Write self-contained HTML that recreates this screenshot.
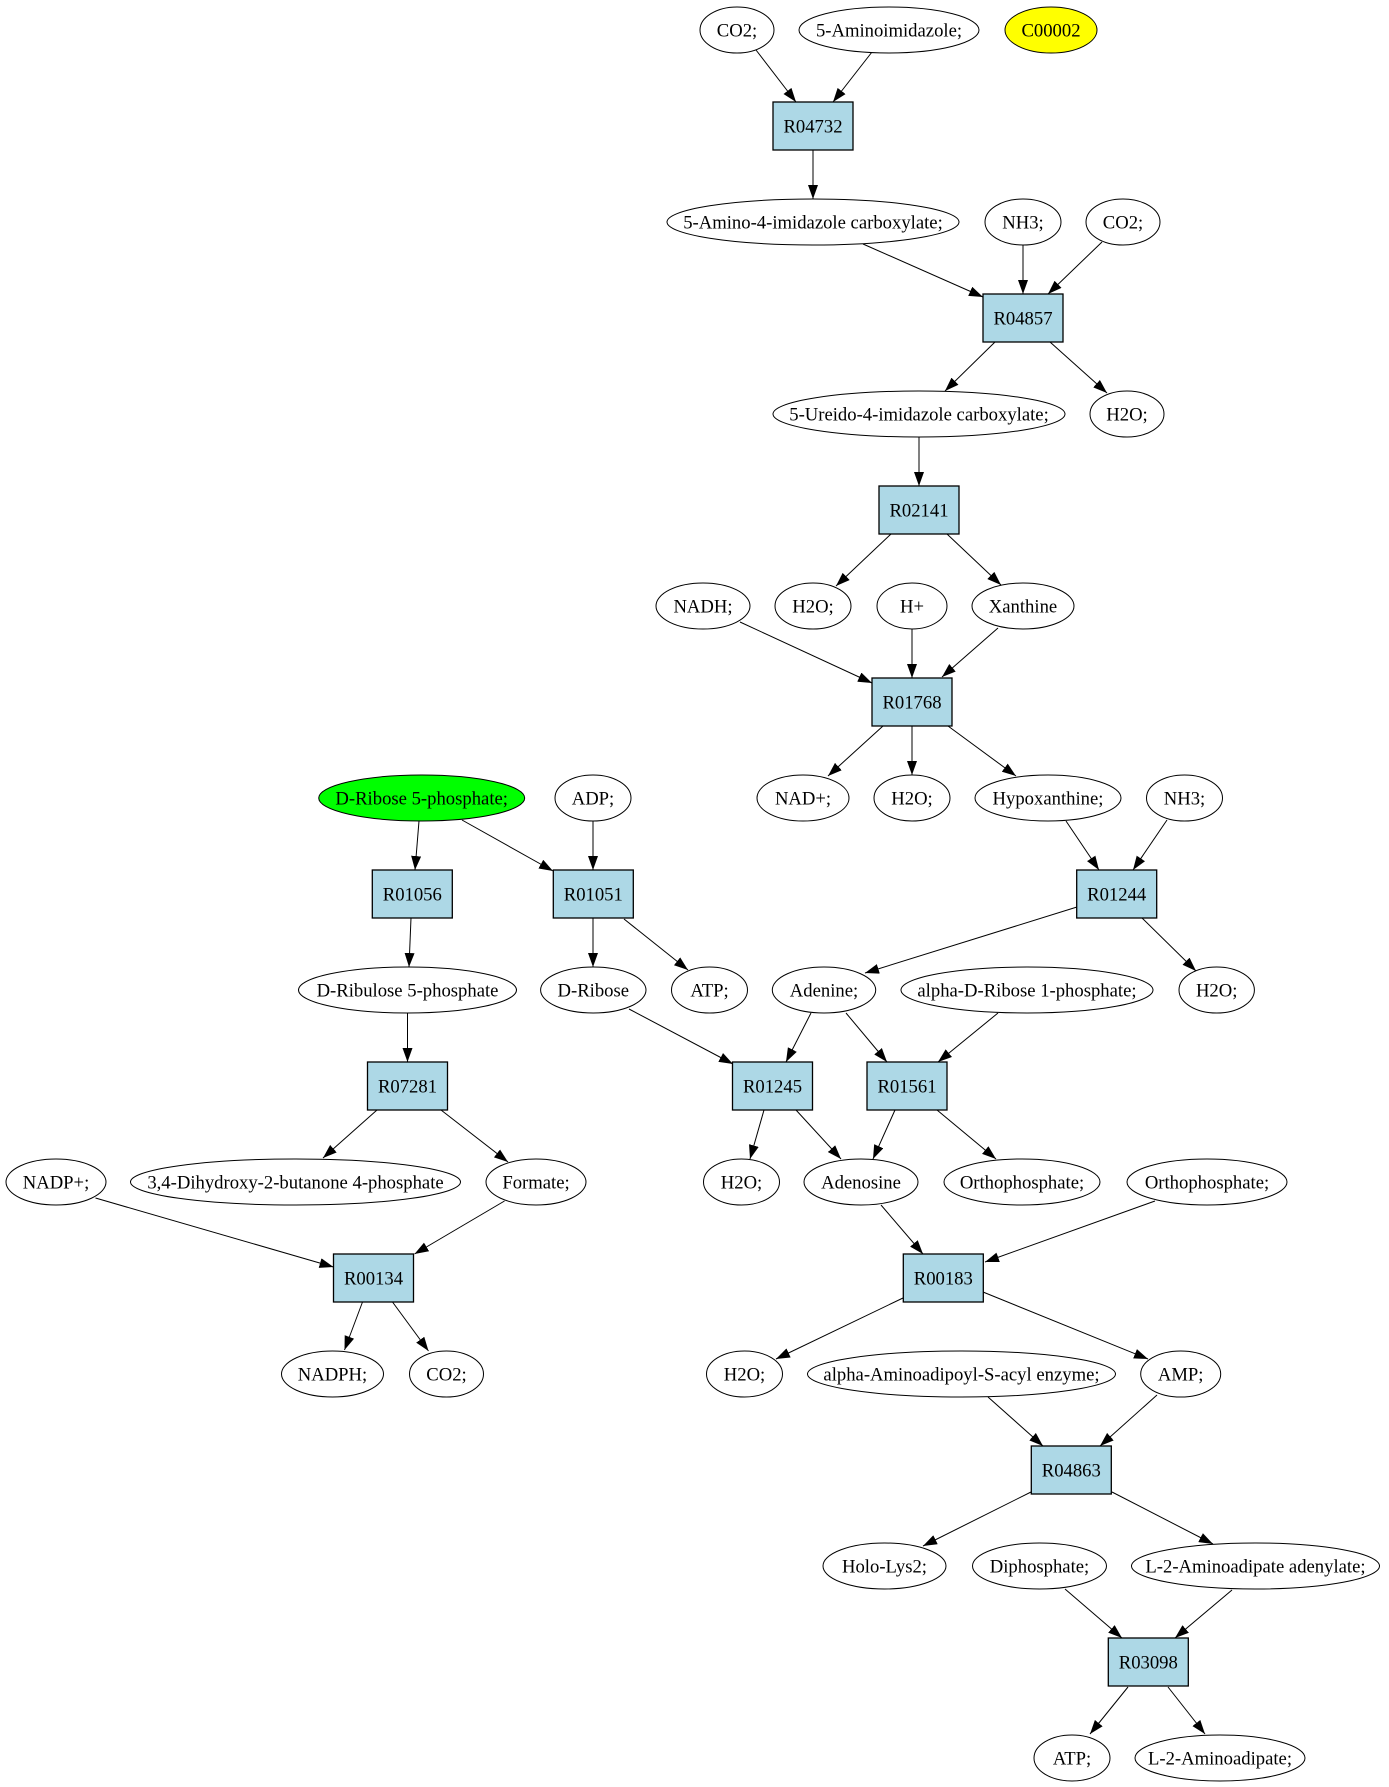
<!DOCTYPE html>
<html>
<head>
<meta charset="utf-8">
<style>
  html,body{margin:0;padding:0;background:#fff;}
  svg{display:block;}
  text{font-family:"Liberation Serif","Times New Roman",serif;font-size:18.67px;fill:#000;text-anchor:middle;}
  .e{fill:#fff;stroke:#000;stroke-width:1;}
  .b{fill:#add8e6;stroke:#000;stroke-width:1.3;}
  .l{stroke:#000;stroke-width:1;fill:none;marker-end:url(#ah);}
</style>
</head>
<body>
<svg width="1389" height="1787" viewBox="0 0 1389 1787" xmlns="http://www.w3.org/2000/svg">
<defs>
  <marker id="ah" markerWidth="14" markerHeight="10" refX="14" refY="5" orient="auto" markerUnits="userSpaceOnUse">
    <path d="M0,0 L14,5 L0,10 z" fill="#000"/>
  </marker>
</defs>
<rect x="0" y="0" width="1389" height="1787" fill="#fff"/>

<!-- edges -->
<line class="l" x1="756" y1="50" x2="796" y2="102"/>
<line class="l" x1="872" y1="52" x2="833" y2="102"/>
<line class="l" x1="813" y1="150" x2="813" y2="199"/>
<line class="l" x1="863" y1="244" x2="983" y2="297"/>
<line class="l" x1="1023" y1="245" x2="1023" y2="294"/>
<line class="l" x1="1102" y1="242" x2="1048" y2="294"/>
<line class="l" x1="995" y1="342" x2="945" y2="391"/>
<line class="l" x1="1050" y1="342" x2="1107" y2="393"/>
<line class="l" x1="919" y1="437" x2="919" y2="486"/>
<line class="l" x1="891" y1="534" x2="836" y2="586"/>
<line class="l" x1="947" y1="534" x2="1001" y2="585"/>
<line class="l" x1="740" y1="622" x2="872" y2="683"/>
<line class="l" x1="912" y1="629" x2="912" y2="678"/>
<line class="l" x1="998" y1="628" x2="942" y2="677"/>
<line class="l" x1="883" y1="726" x2="828" y2="776"/>
<line class="l" x1="912" y1="726" x2="912" y2="775"/>
<line class="l" x1="948" y1="726" x2="1016" y2="776"/>
<line class="l" x1="1066" y1="821" x2="1099" y2="870"/>
<line class="l" x1="1167" y1="820" x2="1133" y2="870"/>
<line class="l" x1="419" y1="821" x2="415" y2="870"/>
<line class="l" x1="462" y1="820" x2="553" y2="871"/>
<line class="l" x1="593" y1="821" x2="593" y2="870"/>
<line class="l" x1="411" y1="918" x2="409" y2="967"/>
<line class="l" x1="593" y1="918" x2="593" y2="967"/>
<line class="l" x1="624" y1="919" x2="688" y2="970"/>
<line class="l" x1="1077" y1="907" x2="865" y2="973"/>
<line class="l" x1="1142" y1="918" x2="1196" y2="971"/>
<line class="l" x1="407.5" y1="1013" x2="407.5" y2="1062"/>
<line class="l" x1="629" y1="1009" x2="733" y2="1064"/>
<line class="l" x1="811" y1="1013" x2="786" y2="1062"/>
<line class="l" x1="846" y1="1013" x2="887" y2="1062"/>
<line class="l" x1="998" y1="1013" x2="938" y2="1062"/>
<line class="l" x1="377" y1="1110" x2="323" y2="1158"/>
<line class="l" x1="441" y1="1110" x2="508" y2="1162"/>
<line class="l" x1="764" y1="1110" x2="750" y2="1159"/>
<line class="l" x1="796" y1="1110" x2="841" y2="1159"/>
<line class="l" x1="895" y1="1110" x2="873" y2="1159"/>
<line class="l" x1="937" y1="1110" x2="996" y2="1159"/>
<line class="l" x1="95.5" y1="1198" x2="333.5" y2="1267"/>
<line class="l" x1="504.5" y1="1201" x2="414.5" y2="1254"/>
<line class="l" x1="881" y1="1205" x2="923" y2="1254"/>
<line class="l" x1="1155" y1="1201" x2="985" y2="1262"/>
<line class="l" x1="362.5" y1="1302" x2="344.5" y2="1350"/>
<line class="l" x1="392.5" y1="1302" x2="428.5" y2="1351"/>
<line class="l" x1="903" y1="1298" x2="776" y2="1359"/>
<line class="l" x1="983" y1="1292" x2="1148" y2="1359"/>
<line class="l" x1="988" y1="1397" x2="1043" y2="1446"/>
<line class="l" x1="1157" y1="1395" x2="1100" y2="1446"/>
<line class="l" x1="1031" y1="1492" x2="923" y2="1546"/>
<line class="l" x1="1112" y1="1492" x2="1213" y2="1544"/>
<line class="l" x1="1065" y1="1589" x2="1122" y2="1638"/>
<line class="l" x1="1232" y1="1590" x2="1175" y2="1638"/>
<line class="l" x1="1128" y1="1687" x2="1090" y2="1734"/>
<line class="l" x1="1168" y1="1687" x2="1205" y2="1734"/>

<!-- row 0 -->
<ellipse class="e" cx="737" cy="30" rx="37" ry="23"/><text x="737" y="36.5">CO2;</text>
<ellipse class="e" cx="889" cy="30" rx="90" ry="23"/><text x="889" y="36.5">5-Aminoimidazole;</text>
<ellipse class="e" cx="1051" cy="30" rx="46" ry="23" style="fill:#ffff00"/><text x="1051" y="36.5">C00002</text>

<!-- row 1 -->
<rect class="b" x="773" y="102" width="80" height="48"/><text x="813" y="132.5">R04732</text>

<!-- row 2 -->
<ellipse class="e" cx="813" cy="222" rx="146" ry="23"/><text x="813" y="228.5">5-Amino-4-imidazole carboxylate;</text>
<ellipse class="e" cx="1023" cy="222" rx="38" ry="23"/><text x="1023" y="228.5">NH3;</text>
<ellipse class="e" cx="1123" cy="222" rx="37" ry="23"/><text x="1123" y="228.5">CO2;</text>

<!-- row 3 -->
<rect class="b" x="983" y="294" width="80" height="48"/><text x="1023" y="324.5">R04857</text>

<!-- row 4 -->
<ellipse class="e" cx="919" cy="414" rx="146" ry="23"/><text x="919" y="420.5">5-Ureido-4-imidazole carboxylate;</text>
<ellipse class="e" cx="1127" cy="414" rx="37" ry="23"/><text x="1127" y="420.5">H2O;</text>

<!-- row 5 -->
<rect class="b" x="879" y="486" width="80" height="48"/><text x="919" y="516.5">R02141</text>

<!-- row 6 -->
<ellipse class="e" cx="703" cy="606" rx="47" ry="23"/><text x="703" y="612.5">NADH;</text>
<ellipse class="e" cx="813" cy="606" rx="38" ry="23"/><text x="813" y="612.5">H2O;</text>
<ellipse class="e" cx="912" cy="606" rx="35" ry="23"/><text x="912" y="612.5">H+</text>
<ellipse class="e" cx="1023" cy="606" rx="51" ry="23"/><text x="1023" y="612.5">Xanthine</text>

<!-- row 7 -->
<rect class="b" x="872" y="678" width="80" height="48"/><text x="912" y="708.5">R01768</text>

<!-- row 8 -->
<ellipse class="e" cx="421.7" cy="798" rx="103" ry="23" style="fill:#00ff00"/><text x="421.7" y="804.5">D-Ribose 5-phosphate;</text>
<ellipse class="e" cx="593" cy="798" rx="38" ry="23"/><text x="593" y="804.5">ADP;</text>
<ellipse class="e" cx="803" cy="798" rx="46" ry="23"/><text x="803" y="804.5">NAD+;</text>
<ellipse class="e" cx="912" cy="798" rx="38" ry="23"/><text x="912" y="804.5">H2O;</text>
<ellipse class="e" cx="1048" cy="798" rx="73" ry="23"/><text x="1048" y="804.5">Hypoxanthine;</text>
<ellipse class="e" cx="1184.5" cy="798" rx="38" ry="23"/><text x="1184.5" y="804.5">NH3;</text>

<!-- row 9 -->
<rect class="b" x="372.3" y="870" width="80" height="48"/><text x="412.3" y="900.5">R01056</text>
<rect class="b" x="553.3" y="870" width="80" height="48"/><text x="593.3" y="900.5">R01051</text>
<rect class="b" x="1076.7" y="870" width="80" height="48"/><text x="1116.7" y="900.5">R01244</text>

<!-- row 10 -->
<ellipse class="e" cx="407.5" cy="990" rx="109" ry="23"/><text x="407.5" y="996.5">D-Ribulose 5-phosphate</text>
<ellipse class="e" cx="593.3" cy="990" rx="52.7" ry="23"/><text x="593.3" y="996.5">D-Ribose</text>
<ellipse class="e" cx="709.5" cy="990" rx="38" ry="23"/><text x="709.5" y="996.5">ATP;</text>
<ellipse class="e" cx="824" cy="990" rx="51.7" ry="23"/><text x="824" y="996.5">Adenine;</text>
<ellipse class="e" cx="1027" cy="990" rx="126" ry="23"/><text x="1027" y="996.5">alpha-D-Ribose 1-phosphate;</text>
<ellipse class="e" cx="1216.7" cy="990" rx="37.7" ry="23"/><text x="1216.7" y="996.5">H2O;</text>

<!-- row 11 -->
<rect class="b" x="367.5" y="1062" width="80" height="48"/><text x="407.5" y="1092.5">R07281</text>
<rect class="b" x="732.5" y="1062" width="80" height="48"/><text x="772.5" y="1092.5">R01245</text>
<rect class="b" x="867" y="1062" width="80" height="48"/><text x="907" y="1092.5">R01561</text>

<!-- row 12 -->
<ellipse class="e" cx="56" cy="1182" rx="50" ry="23"/><text x="56" y="1188.5">NADP+;</text>
<ellipse class="e" cx="295.5" cy="1182" rx="165" ry="23"/><text x="295.5" y="1188.5">3,4-Dihydroxy-2-butanone 4-phosphate</text>
<ellipse class="e" cx="536" cy="1182" rx="50" ry="23"/><text x="536" y="1188.5">Formate;</text>
<ellipse class="e" cx="741.5" cy="1182" rx="38" ry="23"/><text x="741.5" y="1188.5">H2O;</text>
<ellipse class="e" cx="861" cy="1182" rx="57" ry="23"/><text x="861" y="1188.5">Adenosine</text>
<ellipse class="e" cx="1022" cy="1182" rx="78" ry="23"/><text x="1022" y="1188.5">Orthophosphate;</text>
<ellipse class="e" cx="1207" cy="1182" rx="80" ry="23"/><text x="1207" y="1188.5">Orthophosphate;</text>

<!-- row 13 -->
<rect class="b" x="333.5" y="1254" width="80" height="48"/><text x="373.5" y="1284.5">R00134</text>
<rect class="b" x="903.3" y="1254" width="80" height="48"/><text x="943.3" y="1284.5">R00183</text>

<!-- row 14 -->
<ellipse class="e" cx="332.5" cy="1374" rx="51" ry="23"/><text x="332.5" y="1380.5">NADPH;</text>
<ellipse class="e" cx="446.5" cy="1374" rx="37" ry="23"/><text x="446.5" y="1380.5">CO2;</text>
<ellipse class="e" cx="744.5" cy="1374" rx="38" ry="23"/><text x="744.5" y="1380.5">H2O;</text>
<ellipse class="e" cx="961.5" cy="1374" rx="154" ry="23"/><text x="961.5" y="1380.5">alpha-Aminoadipoyl-S-acyl enzyme;</text>
<ellipse class="e" cx="1180.7" cy="1374" rx="40" ry="23"/><text x="1180.7" y="1380.5">AMP;</text>

<!-- row 15 -->
<rect class="b" x="1031.3" y="1446" width="80" height="48"/><text x="1071.3" y="1476.5">R04863</text>

<!-- row 16 -->
<ellipse class="e" cx="884.5" cy="1566" rx="61.5" ry="23"/><text x="884.5" y="1572.5">Holo-Lys2;</text>
<ellipse class="e" cx="1039.5" cy="1566" rx="67" ry="23"/><text x="1039.5" y="1572.5">Diphosphate;</text>
<ellipse class="e" cx="1255.5" cy="1566" rx="124" ry="23"/><text x="1255.5" y="1572.5">L-2-Aminoadipate adenylate;</text>

<!-- row 17 -->
<rect class="b" x="1108.3" y="1638" width="80" height="48"/><text x="1148.3" y="1668.5">R03098</text>

<!-- row 18 -->
<ellipse class="e" cx="1072" cy="1758" rx="38" ry="23"/><text x="1072" y="1764.5">ATP;</text>
<ellipse class="e" cx="1220" cy="1758" rx="85" ry="23"/><text x="1220" y="1764.5">L-2-Aminoadipate;</text>
</svg>
</body>
</html>
